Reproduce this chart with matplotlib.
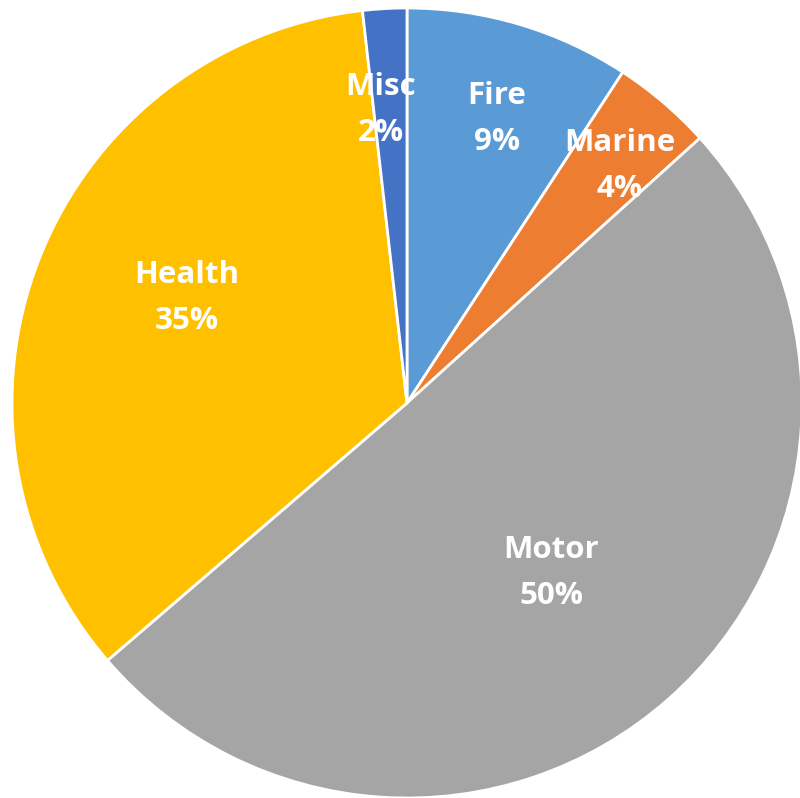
import numpy as np
import matplotlib
matplotlib.use("Agg")
import matplotlib.pyplot as plt

categories = ["Fire", "Marine", "Motor", "Health", "Misc"]
values = [9.2, 4.1, 50.4, 34.5, 1.8]
pct_labels = ["9%", "4%", "50%", "35%", "2%"]
colors = ["#5B9BD5", "#ED7D31", "#A5A5A5", "#FFC000", "#4472C4"]
label_radius = [0.754, 0.806, 0.564, 0.617, 0.744]
label_angle_shift = [1.0, 1.4, 1.1, 4.1, -1.9]

fig = plt.figure(figsize=(8.0, 7.98), dpi=100)
ax = fig.add_axes([12/800, 0/798, 790/800, 790/798])
wedges, _ = ax.pie(values, colors=colors, startangle=90, counterclock=False,
                   wedgeprops=dict(edgecolor="white", linewidth=2.0))
ax.set_xlim(-1, 1)
ax.set_ylim(-1, 1)
ax.set_aspect("equal")
ax.axis("off")

total = sum(values)
cum = 0
for cat, v, p, r, s in zip(categories, values, pct_labels, label_radius, label_angle_shift):
    mid = (cum + v / 2) / total * 360 + s
    cum += v
    theta = np.deg2rad(90 - mid)
    x, y = r * np.cos(theta), r * np.sin(theta)
    ax.text(x, y, f"{cat}\n{p}", ha="center", va="center", color="white",
            fontsize=22.5, fontweight="bold", family=["Open Sans", "DejaVu Sans"],
            linespacing=1.68)

fig.savefig("out.png", dpi=100)
